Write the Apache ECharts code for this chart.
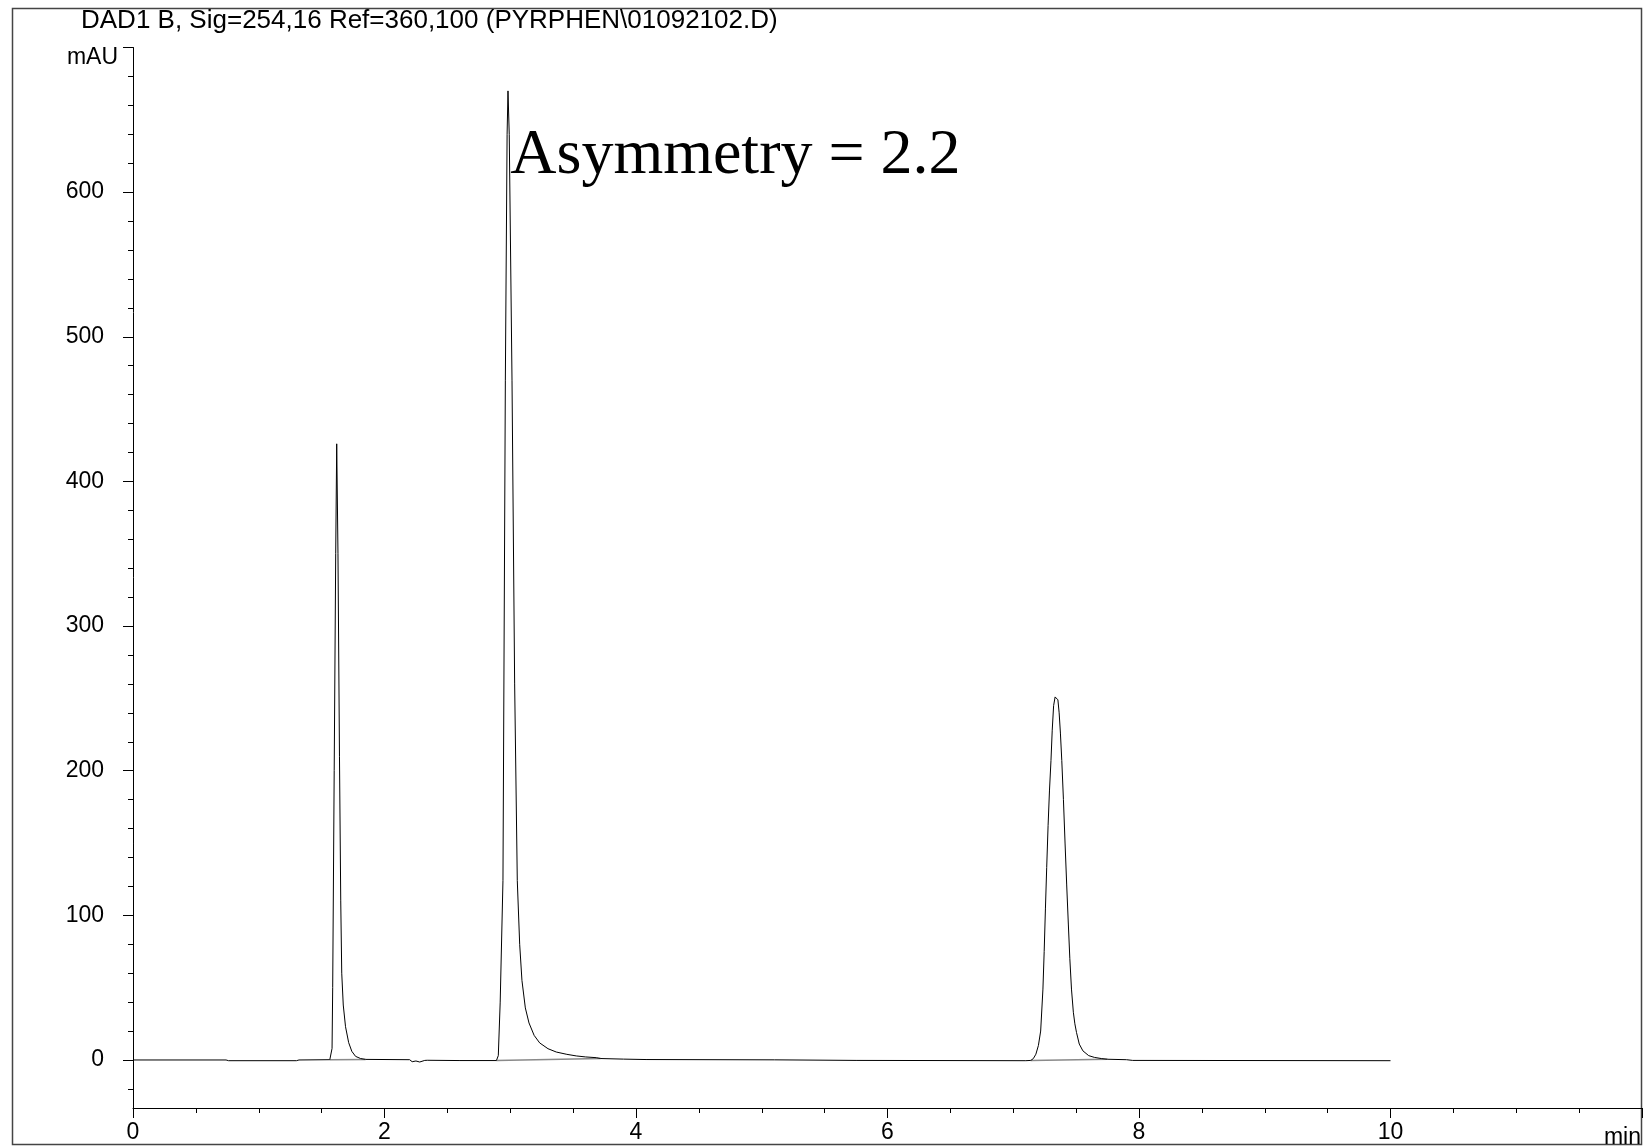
<!DOCTYPE html>
<html>
<head>
<meta charset="utf-8">
<script src="https://cdn.jsdelivr.net/npm/echarts@6/dist/echarts.min.js"></script>
<style>
html,body{margin:0;padding:0;background:#fff;}
#chart{width:1645px;height:1146px;}
</style>
</head>
<body>
<div id="chart"></div>
<script>
// ---- Data ----
const chartTitle = 'DAD1 B, Sig=254,16 Ref=360,100 (PYRPHEN\\01092102.D)';
const yUnit = 'mAU';
const xUnit = 'min';
const annotationText = 'Asymmetry = 2.2';
const annotationPos = [3.0, 625];   // [min, mAU]

// retention time (min)
const signalTime = [
  0.00, 0.74, 0.76, 1.30, 1.32, 1.565, 1.578, 1.583, 1.588, 1.600, 1.612,
  1.620, 1.630, 1.642, 1.652, 1.660, 1.672, 1.690, 1.715, 1.740, 1.770,
  1.810, 1.850, 2.20, 2.22, 2.25, 2.28, 2.32, 2.34, 2.60, 2.89,
  2.905, 2.920, 2.942, 2.961, 2.975, 2.982, 2.992, 3.014, 3.035, 3.056,
  3.075, 3.093, 3.120, 3.149, 3.190, 3.234, 3.300, 3.366, 3.450, 3.525,
  3.600, 3.684, 3.72, 3.90, 4.08, 5.10, 5.75, 7.10, 7.14, 7.16,
  7.18, 7.20, 7.218, 7.236, 7.246, 7.256, 7.266, 7.277, 7.288, 7.300,
  7.310, 7.321, 7.333, 7.346, 7.355, 7.365, 7.375, 7.386, 7.399, 7.412,
  7.425, 7.438, 7.450, 7.463, 7.478, 7.490, 7.503, 7.525, 7.554, 7.600,
  7.645, 7.70, 7.75, 7.90, 7.95, 10.0
];
// absorbance (mAU)
const signalMAU = [
  0, 0, -0.5, -0.5, 0, 0.2, 0.6, 8, 50, 200, 350,
  426, 350, 210, 110, 60, 38, 23, 12, 6, 2.5,
  1, 0.4, 0.2, -1.2, -0.7, -1.4, -0.3, -0.2, -0.4, -0.4,
  3, 40, 124, 470, 640, 670, 640, 470, 260, 124,
  80, 55, 36, 25.6, 17, 11.8, 7.8, 5.5, 3.9, 2.8,
  2.1, 1.6, 1.0, 0.6, 0.3, 0.1, -0.3, -0.5, -0.3, 1,
  4, 10, 20, 49, 75, 105, 133, 162, 186, 207,
  228, 245, 251, 252, 249, 240, 226, 207, 180, 150,
  121, 94, 70, 49, 33, 25, 19, 11, 6.3, 3,
  1.8, 1, 0.5, 0.2, -0.3, -0.5
];

// integration baselines (start/end points of each peak)
const baselineTime = [1.565, 1.85, null, 2.89, 3.72, null, 7.14, 7.75];
const baselineMAU  = [0.2, 0.4, null, -0.4, 1.0, null, -0.3, 0.5];

// axis ticks
const yLabelValues = [0, 100, 200, 300, 400, 500, 600];
const yMajorTicks  = [0, 100, 200, 300, 400, 500, 600, 700];
const yMinorTicks  = [-20, 20, 40, 60, 80, 120, 140, 160, 180, 220, 240, 260, 280,
                      320, 340, 360, 380, 420, 440, 460, 480, 520, 540, 560, 580,
                      620, 640, 660, 680];
const xMin = 0, xMax = 12, xInterval = 2;
const yMin = -33.2, yMax = 700;

// ---- Build chart ----
const signalData = signalTime.map((t, i) => [t, signalMAU[i]]);
const baselineData = baselineTime.map((t, i) => (t === null ? '-' : [t, baselineMAU[i]]));

const FONT = '"Liberation Sans", Arial, sans-serif';
const chart = echarts.init(document.getElementById('chart'), null, {renderer: 'canvas'});

const option = {
  animation: false,
  backgroundColor: '#ffffff',
  title: {
    text: chartTitle,
    left: 81, top: 8, padding: 0,
    textStyle: {fontFamily: FONT, fontSize: 26, fontWeight: 'normal', color: '#000'}
  },
  grid: {left: 133, right: 2, top: 47.5, bottom: 38, containLabel: false},
  xAxis: {
    type: 'value', min: xMin, max: xMax, interval: xInterval,
    axisLine: {show: true, onZero: false, lineStyle: {color: '#000', width: 1}},
    axisTick: {show: true, length: 10, lineStyle: {color: '#000', width: 1}},
    minorTick: {show: true, splitNumber: 4, length: 5, lineStyle: {color: '#000', width: 1}},
    axisLabel: {
      show: true, margin: 13, color: '#000', fontFamily: FONT, fontSize: 23,
      formatter: v => (v >= xMax ? '' : String(v))
    },
    splitLine: {show: false}, minorSplitLine: {show: false}
  },
  yAxis: [
    {
      type: 'value', min: yMin, max: yMax, position: 'left',
      axisLine: {show: true, onZero: false, lineStyle: {color: '#000', width: 1}},
      axisTick: {show: true, length: 10, customValues: yMajorTicks, lineStyle: {color: '#000', width: 1}},
      axisLabel: {
        show: true, margin: 29, color: '#000', fontFamily: FONT, fontSize: 23,
        customValues: yLabelValues,
        formatter: v => String(v)
      },
      splitLine: {show: false}
    },
    {
      type: 'value', min: yMin, max: yMax, position: 'left', offset: 0,
      axisLine: {show: false},
      axisTick: {show: true, length: 5, customValues: yMinorTicks, lineStyle: {color: '#000', width: 1}},
      axisLabel: {show: false},
      splitLine: {show: false}
    }
  ],
  series: [
    {
      name: 'baseline', type: 'line', yAxisIndex: 0, data: baselineData,
      showSymbol: false, symbol: 'none', connectNulls: false,
      lineStyle: {color: '#8a8a8a', width: 1.5}, z: 1, silent: true
    },
    {
      name: 'DAD1 B', type: 'line', yAxisIndex: 0, data: signalData,
      showSymbol: false, symbol: 'none',
      lineStyle: {color: '#000', width: 1}, z: 2, silent: true
    }
  ]
};
chart.setOption(option);

const ap = chart.convertToPixel({xAxisIndex: 0, yAxisIndex: 0}, annotationPos);
const unitPos = chart.convertToPixel({xAxisIndex: 0, yAxisIndex: 0}, [0, yMax]);
chart.setOption({
  graphic: [
    {
      type: 'rect', z: -1, silent: true,
      shape: {x: 12.5, y: 8.5, width: 1629, height: 1136},
      style: {fill: 'none', stroke: '#444', lineWidth: 1.5}
    },
    {
      type: 'text', silent: true, x: ap[0], y: ap[1],
      style: {
        text: annotationText, fill: '#000',
        font: '64px "Liberation Serif", "Times New Roman", serif',
        textAlign: 'left', textVerticalAlign: 'middle'
      }
    },
    {
      type: 'text', silent: true, x: unitPos[0] - 15, y: unitPos[1] + 10,
      style: {
        text: yUnit, fill: '#000', font: '23px ' + FONT,
        textAlign: 'right', textVerticalAlign: 'middle'
      }
    },
    {
      type: 'text', silent: true, right: 4, top: 1126,
      style: {text: xUnit, fill: '#000', font: '23px ' + FONT}
    }
  ]
});
</script>
</body>
</html>
